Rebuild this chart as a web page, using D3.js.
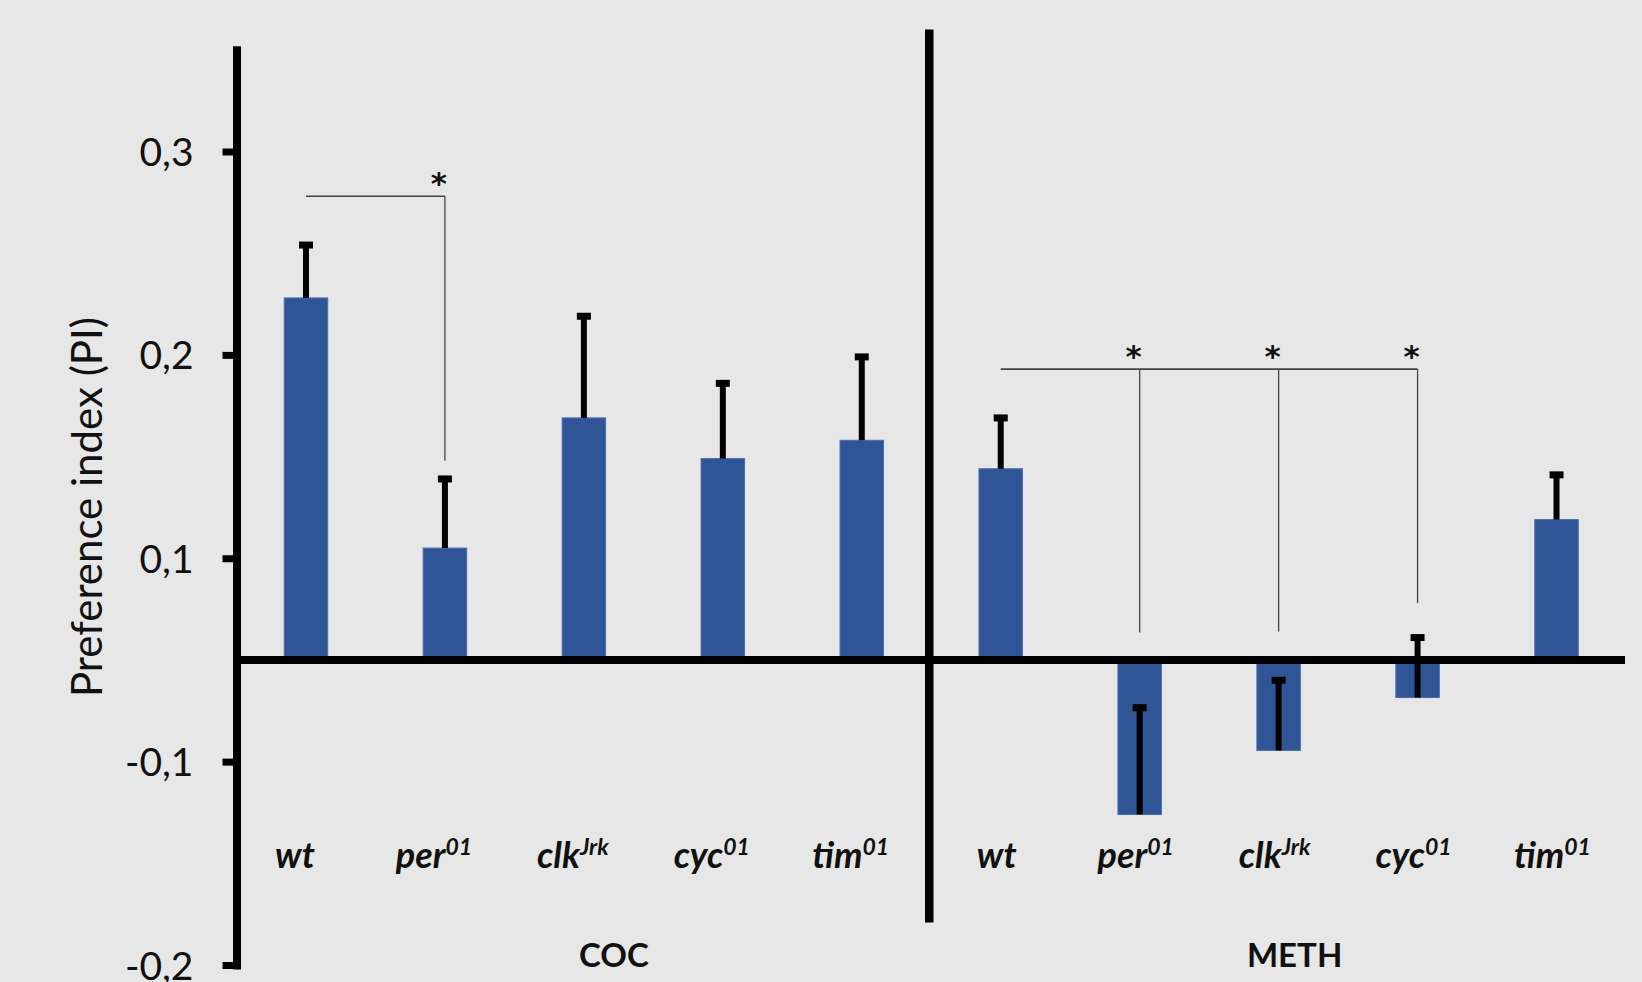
<!DOCTYPE html>
<html>
<head>
<meta charset="utf-8">
<script src="https://cdn.jsdelivr.net/npm/d3@7"></script>
<style>
  html, body { margin: 0; padding: 0; background: #e7e7e7; }
  svg { display: block; font-family: Lato, "Open Sans", sans-serif; }
</style>
</head>
<body>
<svg id="chart" width="1642" height="982"></svg>
<script>
// ---- data ----
const groups = ["COC", "METH"];
const genotypes = ["wt", "per", "clk", "cyc", "tim"];
const alleles = ["", "01", "Jrk", "01", "01"];
const cocValues = [0.228, 0.105, 0.169, 0.149, 0.158];
const cocErrors = [0.026, 0.034, 0.050, 0.037, 0.041];
const methValues = [0.144, -0.126, -0.089, -0.037, 0.119];
const methErrors = [0.025, 0.079, 0.069, 0.059, 0.022];
const yTickValues = [0.3, 0.2, 0.1, -0.1, -0.2];
// significance brackets (heights in PI units)
const cocBracket = { group: "COC", from: "wt", to: ["per"], level: 0.278, ends: [0.148] };
const methBracket = { group: "METH", from: "wt", to: ["per", "clk", "cyc"], level: 0.193, ends: [0.027, 0.028, 0.056] };

const rows = groups.flatMap((g, gi) => genotypes.map((gen, i) => ({
  group: g,
  genotype: gen,
  allele: alleles[i],
  value: gi ? methValues[i] : cocValues[i],
  error: gi ? methErrors[i] : cocErrors[i],
  key: g + "-" + gen
})));

// ---- layout ----
const W = 1642, H = 982;
const axisX = 236.5, plotRight = 1626;
const yTop = 151.5, yBottom = 965;          // rows of the 0,3 and -0,2 ticks
const step = (yBottom - yTop) / 4;          // tick rows are evenly spaced
// the zero baseline sits halfway between the 0,1 and -0,1 rows
const y = d3.scaleLinear()
  .domain([-0.2, -0.1, 0, 0.1, 0.35])
  .range([yBottom, yBottom - step, yBottom - 1.5 * step, yBottom - 2 * step, yTop - 0.5 * step]);

const x = d3.scaleBand().domain(rows.map(d => d.key)).range([axisX, plotRight]).padding(0);
const barW = x.bandwidth() * 0.313;
const cx = key => x(key) + x.bandwidth() / 2;
const y0 = y(0);

const svg = d3.select("#chart");
svg.append("rect").attr("width", W).attr("height", H).attr("fill", "#e7e7e7");

// ---- bars ----
svg.append("g").selectAll("rect").data(rows).join("rect")
  .attr("x", d => cx(d.key) - barW / 2)
  .attr("y", d => Math.min(y(d.value), y0))
  .attr("width", barW)
  .attr("height", d => Math.abs(y(d.value) - y0))
  .attr("fill", "#2f5597")
  .attr("stroke", "#4a6db0")
  .attr("stroke-width", 1);

// ---- error bars (plus direction) ----
const eb = svg.append("g");
eb.selectAll("line.stem").data(rows).join("line")
  .attr("class", "stem")
  .attr("x1", d => cx(d.key)).attr("x2", d => cx(d.key))
  .attr("y1", d => y(d.value)).attr("y2", d => y(d.value + d.error))
  .attr("stroke", "#000").attr("stroke-width", 6);
eb.selectAll("line.cap").data(rows).join("line")
  .attr("class", "cap")
  .attr("x1", d => cx(d.key) - 7).attr("x2", d => cx(d.key) + 7)
  .attr("y1", d => y(d.value + d.error)).attr("y2", d => y(d.value + d.error))
  .attr("stroke", "#000").attr("stroke-width", 7);

// ---- zero baseline ----
svg.append("line")
  .attr("x1", axisX).attr("x2", plotRight - 1)
  .attr("y1", y0).attr("y2", y0)
  .attr("stroke", "#000").attr("stroke-width", 8);

// ---- y axis ----
const yAxis = d3.axisLeft(y)
  .tickValues(yTickValues)
  .tickSize(14)
  .tickSizeOuter(0)
  .tickPadding(29)
  .tickFormat(d => d3.format(".1f")(d).replace("\u2212", "-").replace(".", ","));
const ga = svg.append("g").attr("transform", `translate(${axisX},0)`).call(yAxis);
ga.select(".domain").attr("stroke", "#000").attr("stroke-width", 8).attr("stroke-linecap", "square");
ga.selectAll(".tick line").attr("stroke", "#000").attr("stroke-width", 7);
ga.selectAll(".tick text")
  .attr("font-family", "Lato, 'Open Sans', sans-serif")
  .attr("font-size", 39)
  .attr("fill", "#111")
  .attr("dy", "0.36em");

svg.append("text")
  .attr("transform", "translate(102,507) rotate(-90)")
  .attr("text-anchor", "middle")
  .attr("font-size", 42)
  .attr("fill", "#111")
  .text("Preference index (PI)");

// ---- divider between the two drugs ----
const divX = x("METH-wt") - 2;
svg.append("line")
  .attr("x1", divX).attr("x2", divX)
  .attr("y1", 29.5).attr("y2", 922.5)
  .attr("stroke", "#000").attr("stroke-width", 8.5);

// ---- genotype labels ----
const labelShift = { COC: -11, METH: -4 };
const lab = svg.append("g").selectAll("text").data(rows).join("text")
  .attr("x", d => cx(d.key) + labelShift[d.group])
  .attr("y", 868)
  .attr("text-anchor", "middle")
  .attr("font-size", 36)
  .attr("font-weight", 700)
  .attr("font-style", "italic")
  .attr("fill", "#111");
lab.append("tspan").text(d => d.genotype);
lab.filter(d => d.allele).append("tspan")
  .attr("font-size", 23).attr("dy", -13)
  .text(d => d.allele);

// ---- drug labels ----
const groupShift = { COC: 30, METH: 16 };
svg.append("g").selectAll("text").data(groups).join("text")
  .attr("x", g => {
    const keys = genotypes.map(gen => g + "-" + gen);
    return (x(keys[0]) + x(keys[keys.length - 1]) + x.bandwidth()) / 2 + groupShift[g];
  })
  .attr("y", 967)
  .attr("text-anchor", "middle")
  .attr("font-size", 33)
  .attr("font-weight", 700)
  .attr("fill", "#111")
  .text(g => g);

// ---- significance brackets ----
function drawBracket(b) {
  const g = svg.append("g");
  const ly = y(b.level);
  const xs = b.to.map(t => cx(b.group + "-" + t));
  g.append("line")
    .attr("x1", cx(b.group + "-" + b.from)).attr("x2", xs[xs.length - 1])
    .attr("y1", ly).attr("y2", ly)
    .attr("stroke", "#444").attr("stroke-width", 1.6);
  b.to.forEach((t, i) => {
    g.append("line")
      .attr("x1", xs[i]).attr("x2", xs[i])
      .attr("y1", ly).attr("y2", y(b.ends[i]))
      .attr("stroke", "#444").attr("stroke-width", 1.3);
    g.append("text")
      .attr("x", xs[i] - 6).attr("y", ly - 2)
      .attr("text-anchor", "middle")
      .attr("font-family", "'DejaVu Sans', sans-serif")
      .attr("font-size", 31).attr("font-weight", 700)
      .attr("fill", "#111")
      .text("*");
  });
}
drawBracket(cocBracket);
drawBracket(methBracket);
</script>
</body>
</html>
